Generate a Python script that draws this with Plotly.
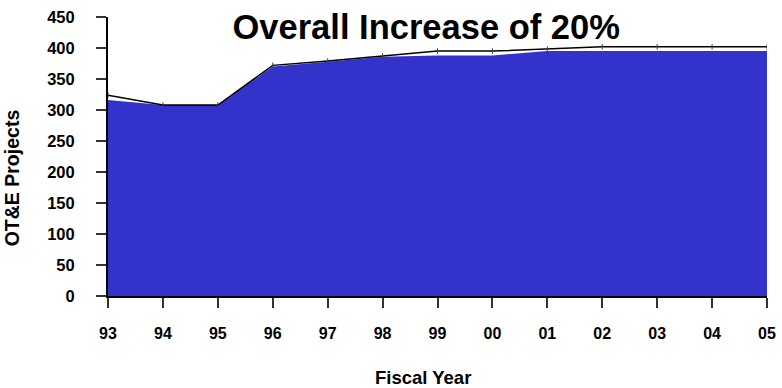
import plotly.graph_objects as go

years = ["93", "94", "95", "96", "97", "98", "99", "00", "01", "02", "03", "04", "05"]
projects_area = [316, 308, 308, 370, 378, 386, 388, 388, 395, 395, 395, 395, 395]
projects_line = [324, 308, 308, 372, 379, 387, 395, 395, 398, 402, 402, 402, 402]
y_ticks = [0, 50, 100, 150, 200, 250, 300, 350, 400, 450]

FONT = "Liberation Sans, Arial, sans-serif"
idx = list(range(len(years)))

fig = go.Figure()
fig.add_trace(go.Scatter(
    x=idx, y=projects_area, mode="lines", fill="tozeroy",
    fillcolor="#3333CC", line=dict(color="#3333CC", width=0),
    showlegend=False, hoverinfo="skip"))
fig.add_trace(go.Scatter(
    x=idx, y=projects_line, mode="lines+markers",
    line=dict(color="black", width=1.5),
    marker=dict(symbol="line-ns", size=4, line=dict(color="#444", width=1)),
    showlegend=False))

fig.update_layout(
    width=782, height=388,
    margin=dict(l=108, r=6, t=17, b=92),
    paper_bgcolor="white", plot_bgcolor="white",
    font=dict(family=FONT, color="black"),
    title=dict(text="<b>Overall Increase of 20%</b>", x=0.545, xanchor="center",
               y=0.93, yanchor="middle", font=dict(size=34.5, family=FONT)),
    xaxis=dict(
        range=[0, 12], tickmode="array", tickvals=idx, ticktext=[f"<b>{y}</b>" for y in years],
        ticks="outside", ticklen=10, tickcolor="#333", tickwidth=2,
        showline=True, linecolor="black", linewidth=2, showgrid=False, zeroline=False,
        tickfont=dict(size=16, family=FONT), ticklabelstandoff=12,
        ticklabeloverflow="allow",
    ),
    yaxis=dict(
        range=[0, 450], tickmode="array", tickvals=y_ticks, ticktext=[f"<b>{v}</b>" for v in y_ticks],
        ticks="outside", ticklen=10, tickcolor="#333", tickwidth=2,
        showline=True, linecolor="black", linewidth=2, showgrid=False, zeroline=False,
        tickfont=dict(size=16.5, family=FONT), ticklabelstandoff=18,
    ),
    annotations=[
        dict(text="<b>OT&E Projects</b>", xref="paper", yref="paper",
             x=(11 - 108) / 668, y=(296 - 178) / 279, xanchor="center", yanchor="middle",
             textangle=-90, showarrow=False, font=dict(size=19.5, family=FONT)),
        dict(text="<b>Fiscal Year</b>", xref="paper", yref="paper",
             x=(427 - 108) / 668, y=(296 - 378) / 279, xanchor="center", yanchor="middle",
             showarrow=False, font=dict(size=18.5, family=FONT)),
    ],
)

fig.write_html("out.html")
